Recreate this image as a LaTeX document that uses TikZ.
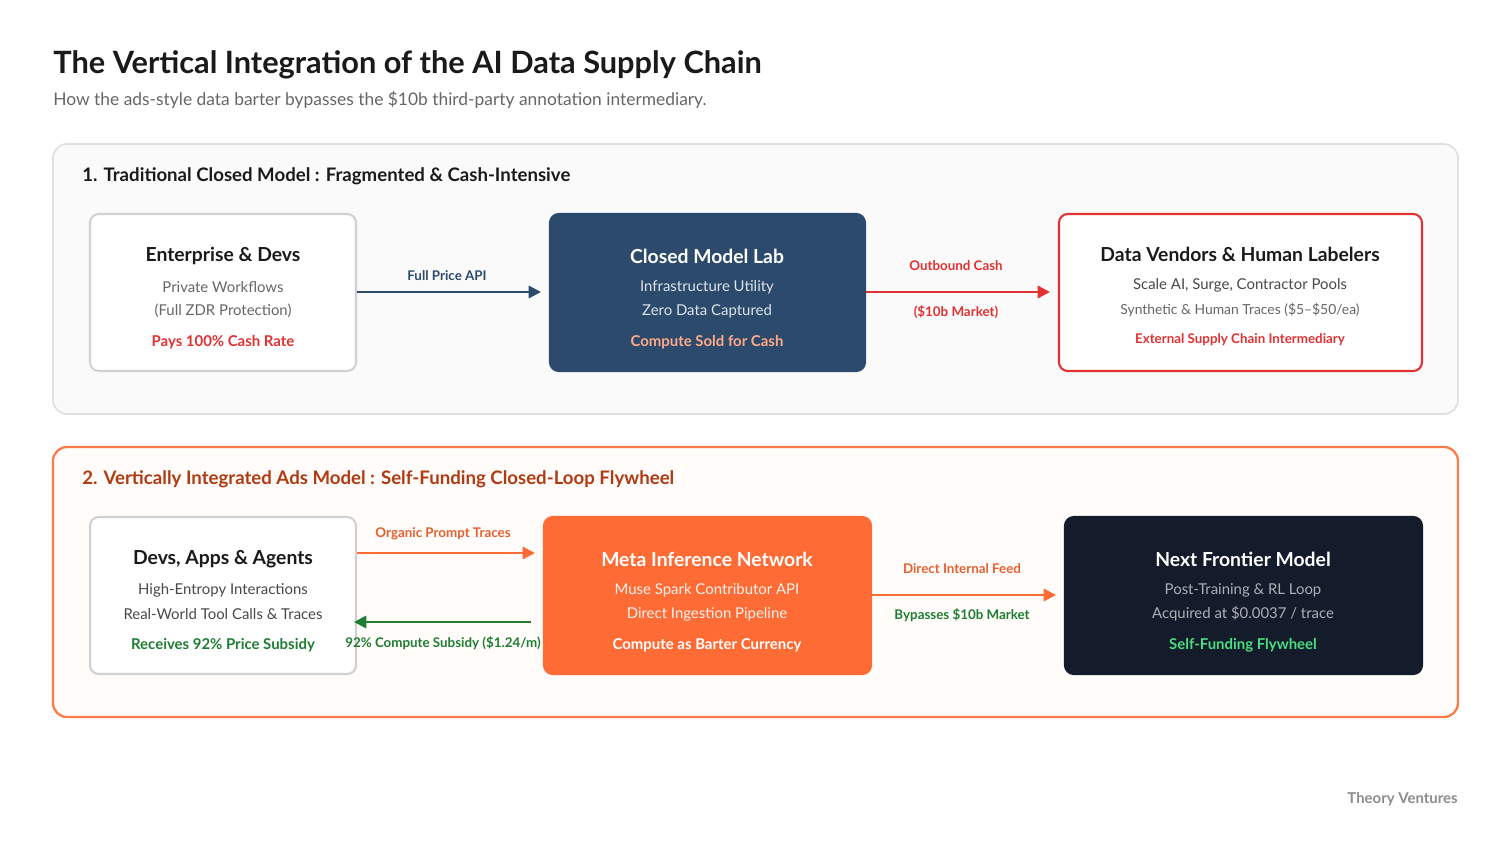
\documentclass[tikz,border=0pt]{standalone}
\usepackage{fontspec}
\setmainfont{Lato}
\usetikzlibrary{arrows.meta,calc}
\definecolor{navy}{HTML}{2B4A6C}
\definecolor{redc}{HTML}{E03232}
\definecolor{orng}{HTML}{FF6B35}
\definecolor{darkb}{HTML}{141B2B}
\definecolor{grn}{HTML}{1E7D32}
\definecolor{lgrn}{HTML}{4ADE80}
\definecolor{txt}{HTML}{1A1A1A}
\definecolor{gtxt}{HTML}{666666}
\definecolor{sec2}{HTML}{B03A12}
\definecolor{salmon}{HTML}{FFA98A}
\begin{document}
\begin{tikzpicture}[x=0.02cm,y=-0.02cm,
  box/.style={draw, rounded corners=5pt, line width=1.2pt, inner sep=0pt},
  panel/.style={draw, rounded corners=8pt, line width=1pt},
  ttl/.style={font=\fontsize{11}{12}\selectfont\bfseries, anchor=center},
  body/.style={font=\fontsize{8.5}{10}\selectfont, anchor=center},
  lab/.style={font=\fontsize{7.6}{9}\selectfont\bfseries, anchor=center},
  arr/.style={line width=1.3pt, -{Triangle[length=7pt,width=7pt]}}]
\useasboundingbox[fill=white] (0,0) rectangle (1512,850);
\node[anchor=west, inner sep=0pt, font=\fontsize{17.5}{20}\selectfont\bfseries, text=txt] (title) at (53,65) {The Vertical Integration of the AI Data Supply Chain};
\node[anchor=west, inner sep=0pt, font=\fontsize{9.9}{12}\selectfont, text=gtxt] (sub) at (53,100) {How the ads-style data barter bypasses the \$10b third-party annotation intermediary.};
% panel 1
\draw[panel, draw=black!12, fill=black!2] (53,144) rectangle (1458,414);
\node[anchor=west, inner sep=0pt, font=\fontsize{10.6}{12}\selectfont\bfseries, text=txt] (s1) at (82,176) {1. Traditional Closed Model : Fragmented \& Cash-Intensive};
\draw[box, draw=black!18, fill=white] (90,214) rectangle (356,371);
\node[ttl,text=txt] (a1) at (223,256) {Enterprise \& Devs};
\node[body,text=gtxt] (a2) at (223,287) {Private Workflows};
\node[body,text=gtxt] (a3) at (223,311) {(Full ZDR Protection)};
\node[lab,text=redc,font=\fontsize{8.5}{10}\selectfont\bfseries] (a4) at (223,342) {Pays 100\% Cash Rate};
\draw[box, draw=navy, fill=navy] (550,214) rectangle (865,371);
\node[ttl,text=white] (b1) at (707,256) {Closed Model Lab};
\node[body,text=white!85!navy] (b2) at (707,287) {Infrastructure Utility};
\node[body,text=white!85!navy] (b3) at (707,311) {Zero Data Captured};
\node[lab,text=salmon,font=\fontsize{8.5}{10}\selectfont\bfseries] (b4) at (707,342) {Compute Sold for Cash};
\draw[box, draw=redc, fill=white] (1059,214) rectangle (1422,371);
\node[ttl,text=txt] (c1) at (1240,254) {Data Vendors \& Human Labelers};
\node[body,text=txt!80] (c2) at (1240,285) {Scale AI, Surge, Contractor Pools};
\node[body,text=gtxt,font=\fontsize{7.9}{9}\selectfont] (c3) at (1240,310) {Synthetic \& Human Traces (\$5–\$50/ea)};
\node[lab,text=redc] (c4) at (1240,340) {External Supply Chain Intermediary};
\coordinate (p1) at (357,292); \coordinate (p2) at (541,292);
\coordinate (p3) at (866,292); \coordinate (p4) at (1050,292);
\draw[arr, navy] (p1) -- (p2);
\draw[arr, redc] (p3) -- (p4);
\node[lab,text=navy] (l1) at (447,276) {Full Price API};
\node[lab,text=redc] (l2) at (956,266) {Outbound Cash};
\node[lab,text=redc] (l3) at (956,312) {(\$10b Market)};
% panel 2
\draw[panel, draw=orng!90, line width=1.3pt, fill=orange!2] (53,447) rectangle (1458,717);
\node[anchor=west, inner sep=0pt, font=\fontsize{10.6}{12}\selectfont\bfseries, text=sec2] (s2) at (82,479) {2. Vertically Integrated Ads Model : Self-Funding Closed-Loop Flywheel};
\draw[box, draw=black!18, fill=white] (90,517) rectangle (356,674);
\node[ttl,text=txt] (d1) at (223,559) {Devs, Apps \& Agents};
\node[body,text=txt!80] (d2) at (223,590) {High-Entropy Interactions};
\node[body,text=txt!80] (d3) at (223,614) {Real-World Tool Calls \& Traces};
\node[lab,text=grn,font=\fontsize{8.5}{10}\selectfont\bfseries] (d4) at (223,645) {Receives 92\% Price Subsidy};
\draw[box, draw=orng, fill=orng] (544,517) rectangle (871,674);
\node[ttl,text=white] (e1) at (707,559) {Meta Inference Network};
\node[body,text=white!92!orng] (e2) at (707,590) {Muse Spark Contributor API};
\node[body,text=white!92!orng] (e3) at (707,614) {Direct Ingestion Pipeline};
\node[lab,text=white,font=\fontsize{8.5}{10}\selectfont\bfseries] (e4) at (707,645) {Compute as Barter Currency};
\draw[box, draw=darkb, fill=darkb] (1065,517) rectangle (1422,674);
\node[ttl,text=white] (f1) at (1243,559) {Next Frontier Model};
\node[body,text=white!65!darkb] (f2) at (1243,590) {Post-Training \& RL Loop};
\node[body,text=white!65!darkb] (f3) at (1243,614) {Acquired at \$0.0037 / trace};
\node[lab,text=lgrn,font=\fontsize{8.5}{10}\selectfont\bfseries] (f4) at (1243,645) {Self-Funding Flywheel};
\coordinate (q1) at (357,553); \coordinate (q2) at (535,553);
\coordinate (q3) at (531,622); \coordinate (q4) at (354,622);
\coordinate (q5) at (872,595); \coordinate (q6) at (1056,595);
\draw[arr, orng] (q1) -- (q2);
\draw[arr, grn] (q3) -- (q4);
\draw[arr, orng] (q5) -- (q6);
\node[lab,text=orng!90!black] (m1) at (443,534) {Organic Prompt Traces};
\node[lab,text=grn] (m2) at (443,643) {92\% Compute Subsidy (\$1.24/m)};
\node[lab,text=orng!90!black] (m3) at (962,569) {Direct Internal Feed};
\node[lab,text=grn] (m4) at (962,615) {Bypasses \$10b Market};
\node[anchor=east, inner sep=0pt, font=\fontsize{8.5}{10}\selectfont\bfseries, text=black!45] (foot) at (1458,799) {Theory Ventures};
\end{tikzpicture}
\end{document}
